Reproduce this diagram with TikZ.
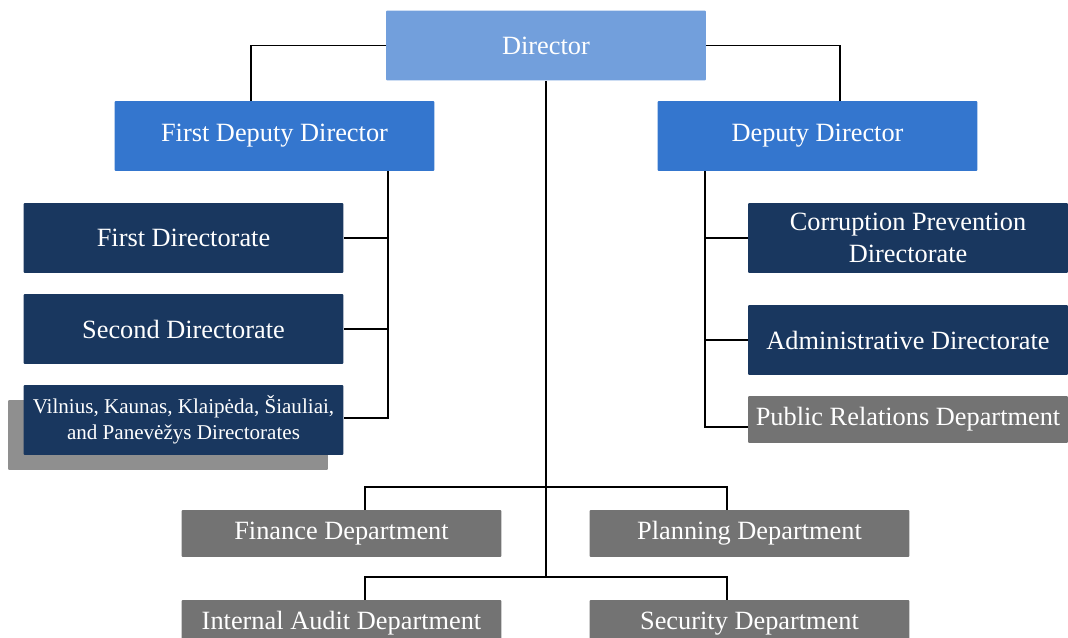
\documentclass[tikz,border=0pt]{standalone}
\usepackage{fontspec}
\setmainfont{Liberation Serif}
\usetikzlibrary{calc, positioning}

\definecolor{dirblue}{RGB}{114,159,220}
\definecolor{depblue}{RGB}{52,118,206}
\definecolor{navy}{RGB}{25,55,95}
\definecolor{deptgrey}{RGB}{115,115,115}
\definecolor{shadowgrey}{RGB}{143,143,143}

\begin{document}
\begin{tikzpicture}[x=0.02cm, y=-0.02cm]
    \tikzstyle{unit} = [rectangle, rounded corners=.6pt, text=white, inner sep=0pt, align=center,
        minimum width=6.4cm, minimum height=1.4cm, font=\fontsize{15}{18}\selectfont]
    \tikzstyle{director} = [unit, fill=dirblue]
    \tikzstyle{deputy} = [unit, fill=depblue]
    \tikzstyle{directorate} = [unit, fill=navy]
    \tikzstyle{department} = [unit, fill=deptgrey, minimum height=.94cm]
    \tikzstyle{link} = [line width=1pt, black]

    \clip (0, 0) rectangle (1068, 638);

    % Management ----------------------------------------
    \node (dir) at (546, 45.5) [director] {Director};
    \node (fdd) at (274.5, 136) [deputy] {First Deputy Director};
    \node (dd) at (817.5, 136) [deputy] {Deputy Director};

    % Directorates --------------------------------------
    \node (first) at (183.5, 238) [directorate] {First Directorate};
    \node (second) at (183.5, 329) [directorate] {Second Directorate};
    \node (shadow) at (168, 435) [unit, fill=shadowgrey] {};
    \node (vil) at (183.5, 420) [directorate, font=\fontsize{12}{14.7}\selectfont]
        {Vilnius, Kaunas, Klaipėda, Šiauliai,\\and Panevėžys Directorates};

    \node (corr) at (908, 238) [directorate] {Corruption Prevention\\Directorate};
    \node (admin) at (908, 340) [directorate] {Administrative Directorate};
    \node (pr) at (908, 419.5) [department] {Public Relations Department};

    % Departments ---------------------------------------
    \node (fin) at (341.5, 533.5) [department] {Finance Department};
    \node (plan) at (749.5, 533.5) [department] {Planning Department};
    \node (audit) at (341.5, 623.5) [department] {Internal Audit Department};
    \node (sec) at (749.5, 623.5) [department] {Security Department};
    % ---------------------------------------------------

    % Links to deputies
    \draw [link] (dir.west) -| ($(fdd.north) + (-23.5, 0)$);
    \draw [link] (dir.east) -| ($(dd.north) + (22.5, 0)$);

    % First deputy branch
    \coordinate (fddspine) at ($(fdd.south east) + (-47, 0)$);
    \draw [link] (fddspine) |- ($(vil.east) + (0, -2)$);
    \draw [link] (first.east) -- (first.east -| fddspine);
    \draw [link] (second.east) -- (second.east -| fddspine);

    % Deputy branch
    \coordinate (ddspine) at ($(dd.south west) + (48, 0)$);
    \draw [link] (ddspine) |- ($(pr.west) + (0, 7.5)$);
    \draw [link] (corr.west) -- (corr.west -| ddspine);
    \draw [link] (admin.west) -- (admin.west -| ddspine);

    % Departments under the director
    \coordinate (busA) at ($(dir.south) + (0, 406)$);
    \coordinate (busB) at ($(dir.south) + (0, 496)$);
    \draw [link] (dir.south) -- (busB);
    \draw [link] ($(fin.north) + (23.5, 0)$) |- (busA) -| ($(plan.north) + (-22.5, 0)$);
    \draw [link] ($(audit.north) + (23.5, 0)$) |- (busB) -| ($(sec.north) + (-22.5, 0)$);
\end{tikzpicture}
\end{document}
